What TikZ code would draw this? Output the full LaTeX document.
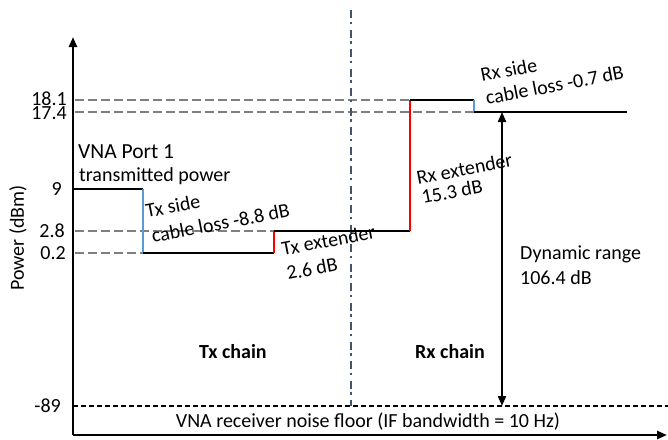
\documentclass[tikz,border=0pt]{standalone}
\usepackage{fontspec}
\setmainfont{Carlito}
\usetikzlibrary{arrows.meta}
\definecolor{cblue}{HTML}{5B9BD5}
\definecolor{cred}{HTML}{FF0000}
\definecolor{cgrey}{HTML}{7F7F7F}
\definecolor{cslate}{HTML}{44546A}
\tikzset{
  axisline/.style={line width=2.4pt,-{Triangle[length=10pt,width=8pt]}},
  stepline/.style={line width=2pt,black},
  lossline/.style={line width=2pt,cblue},
  gainline/.style={line width=2pt,cred},
  guideline/.style={line width=2.4pt,cgrey,dash pattern=on 9pt off 4pt},
  floorline/.style={line width=2pt,black,dash pattern=on 5pt off 3pt},
  divider/.style={line width=2.4pt,cslate,dash pattern=on 8pt off 3.5pt on 2.5pt off 5.5pt},
  ticklabel/.style={anchor=east,inner sep=0pt},
  lbl/.style={anchor=base west,inner sep=0pt},
  rlbl/.style={anchor=base west,inner sep=0pt,rotate=11},
  boldlbl/.style={anchor=base west,inner sep=0pt,font=\fontsize{20}{23}\selectfont\bfseries},
}
\begin{document}
\begin{tikzpicture}[x=1pt,y=-1pt,font=\fontsize{20}{23}\selectfont]
\useasboundingbox (0,0) rectangle (668,439);
% corners
\coordinate (O) at (73,435);
\coordinate (ytop) at (73,37);
\coordinate (xend) at (667,435);
\coordinate (a0) at (73,189);
\coordinate (a1) at (143,189);
\coordinate (a2) at (143,253);
\coordinate (a3) at (274,253);
\coordinate (a4) at (274,231);
\coordinate (a5) at (410,231);
\coordinate (a6) at (410,100);
\coordinate (a7) at (474,100);
\coordinate (a8) at (474,112);
\coordinate (a9) at (627,112);
\coordinate (g181) at (75,100);
\coordinate (g174) at (75,112);
\coordinate (g28) at (75,231);
\coordinate (g02) at (75,253);
\coordinate (f0) at (73,406);
\coordinate (f1) at (668,406);
\coordinate (d0) at (351,10);
\coordinate (d1) at (351,406);
\coordinate (dr0) at (502,112);
\coordinate (dr1) at (502,406);
% guides
\draw[guideline] (g181) -- (a6);
\draw[guideline] (g174) -- (a8);
\draw[guideline] (g28) -- (a4);
\draw[guideline] (g02) -- (a2);
\draw[divider] (d0) -- (d1);
\draw[floorline] (f0) -- (f1);
% steps
\draw[stepline] (a0) -- (a1);
\draw[lossline] (a1) -- (a2);
\draw[stepline] (a2) -- (a3);
\draw[gainline] (a3) -- (a4);
\draw[stepline] (a4) -- (a5);
\draw[gainline] (a5) -- (a6);
\draw[stepline] (a6) -- (a7);
\draw[lossline] (a7) -- (a8);
\draw[stepline] (a8) -- (a9);
% dynamic range
\draw[line width=2pt,{Triangle[length=10pt,width=8pt]}-{Triangle[length=10pt,width=8pt]}] (dr0) -- (dr1);
% axes
\draw[axisline] (O) -- (ytop);
\draw[axisline] (O) -- (xend);
% tick labels
\node[ticklabel] (t181) at (67,99) {18.1};
\node[ticklabel] (t174) at (67,113) {17.4};
\node[ticklabel] (t9) at (62,189) {9};
\node[ticklabel] (t28) at (65,231) {2.8};
\node[ticklabel] (t02) at (66,253) {0.2};
\node[ticklabel] (t89) at (61,406) {-89};
\node[rotate=90,inner sep=0pt] (ylab) at (18,238) {Power (dBm)};
% labels
\node[lbl,font=\fontsize{21.5}{25}\selectfont] (vna1) at (78,158) {VNA Port 1};
\node[lbl] (vna2) at (79,181) {transmitted power};
\node[rlbl] (txs1) at (147,218) {Tx side};
\node[rlbl] (txs2) at (153,243) {cable loss -8.8 dB};
\node[rlbl] (txe1) at (283,256) {Tx extender};
\node[rlbl] (txe2) at (288,280) {2.6 dB};
\node[rlbl] (rxe1) at (418,185) {Rx extender};
\node[rlbl] (rxe2) at (423,204) {15.3 dB};
\node[rlbl] (rxs1) at (482,82) {Rx side};
\node[rlbl] (rxs2) at (487,105) {cable loss -0.7 dB};
\node[lbl] (dyn1) at (520,259) {Dynamic range};
\node[lbl] (dyn2) at (520,284) {106.4 dB};
\node[boldlbl] (txc) at (199,358) {Tx chain};
\node[boldlbl] (rxc) at (415,358) {Rx chain};
\node[anchor=base,inner sep=0pt] (nf) at (368,427) {VNA receiver noise floor (IF bandwidth = 10 Hz)};
\end{tikzpicture}
\end{document}
